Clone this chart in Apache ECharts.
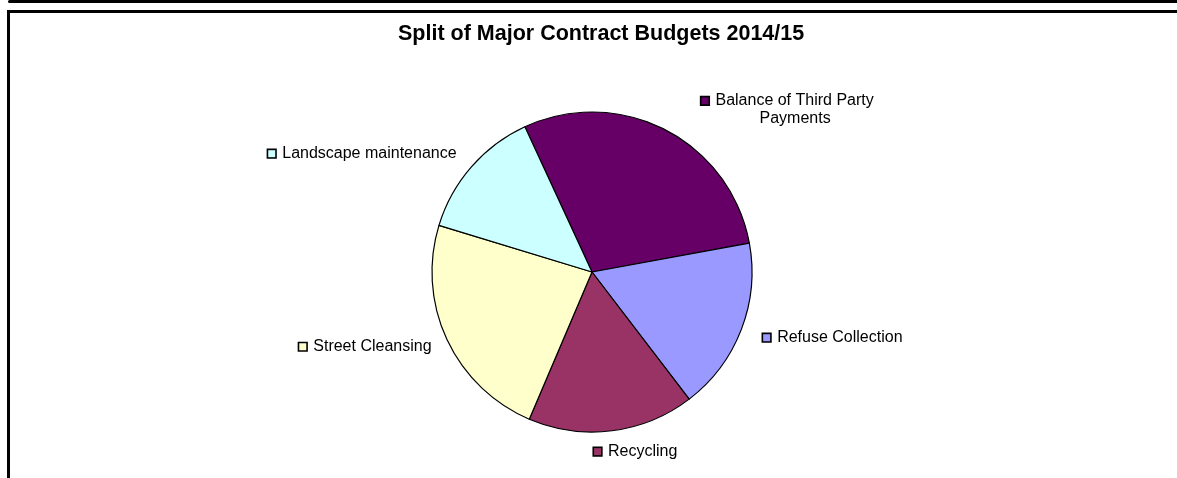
<!DOCTYPE html>
<html>
<head>
<meta charset="utf-8">
<script src="https://cdn.jsdelivr.net/npm/echarts@6/dist/echarts.min.js"></script>
<style>
html, body { margin: 0; padding: 0; background: #fff; }
#chart { width: 1177px; height: 478px; }
</style>
</head>
<body>
<div id="chart"></div>
<script>
// ---- data ----
const titleText = 'Split of Major Contract Budgets 2014/15';
const categories = ['Balance of Third Party Payments', 'Refuse Collection', 'Recycling', 'Street Cleansing', 'Landscape maintenance'];
const shares = [29.0, 17.5, 16.8, 23.3, 13.4];
const colors = ['#660066', '#9999FF', '#993366', '#FFFFCC', '#CCFFFF'];
// label nudges (dx, dy) relative to ECharts' default outside position
const labelNudge = [[23, -5], [1, 2], [-25, 4], [5, 0], [3, -2]];

const FONT = '"Liberation Sans", Arial, Helvetica, sans-serif';

function wrapName(name, maxLen) {
  const words = name.split(' ');
  const lines = [];
  let cur = '';
  words.forEach(w => {
    if (cur && (cur + ' ' + w).length > maxLen) { lines.push(cur); cur = w; }
    else cur = cur ? cur + ' ' + w : w;
  });
  if (cur) lines.push(cur);
  return lines;
}

const rich = {
  g: { width: 7, height: 18 },
  sp: { width: 15, height: 18 },
  c: { fontFamily: FONT, fontSize: 16, color: '#000', lineHeight: 18, align: 'center' },
  t: { fontFamily: FONT, fontSize: 16, color: '#000', lineHeight: 18 }
};
colors.forEach((c, i) => {
  rich['m' + i] = { width: 7, height: 7, backgroundColor: c, borderColor: '#000', borderWidth: 1.6 };
});

const chart = echarts.init(document.getElementById('chart'), null, { renderer: 'canvas' });
chart.setOption({
  animation: false,
  backgroundColor: '#fff',
  title: {
    text: titleText,
    left: 398,
    top: 23,
    padding: 0,
    textStyle: { fontFamily: FONT, fontWeight: 'bold', fontSize: 21.5, color: '#000', lineHeight: 21.5 }
  },
  graphic: [
    { type: 'rect', shape: { x: 8, y: 0, width: 1175, height: 3, r: 1.5 }, style: { fill: '#000' }, silent: true },
    { type: 'rect', shape: { x: 8.5, y: 11.5, width: 1200, height: 500 }, style: { fill: 'none', stroke: '#000', lineWidth: 3 }, silent: true }
  ],
  series: [{
    type: 'pie',
    center: [592, 272],
    radius: 160,
    startAngle: 114.8,
    clockwise: true,
    avoidLabelOverlap: false,
    emphasis: { disabled: true },
    itemStyle: { borderColor: '#000', borderWidth: 1.2 },
    label: {
      show: true,
      position: 'outside',
      distanceToLabelLine: 5,
      fontFamily: FONT,
      fontSize: 16,
      color: '#000',
      rich: rich,
      formatter: function (p) {
        const lines = wrapName(p.name, 22);
        if (lines.length === 1) {
          return '{m' + p.dataIndex + '|}{g|}{t|' + lines[0] + '}';
        }
        let s = '{m' + p.dataIndex + '|}{g|}{c|' + lines[0] + '}';
        for (let k = 1; k < lines.length; k++) s += '\n{sp|}{c|' + lines[k] + '}';
        return s;
      }
    },
    labelLine: { show: false, length: 17, length2: 0 },
    labelLayout: function (params) {
      const n = labelNudge[params.dataIndex];
      return { dx: n[0], dy: n[1] };
    },
    data: categories.map((name, i) => ({ name: name, value: shares[i], itemStyle: { color: colors[i] } }))
  }]
});
</script>
</body>
</html>
